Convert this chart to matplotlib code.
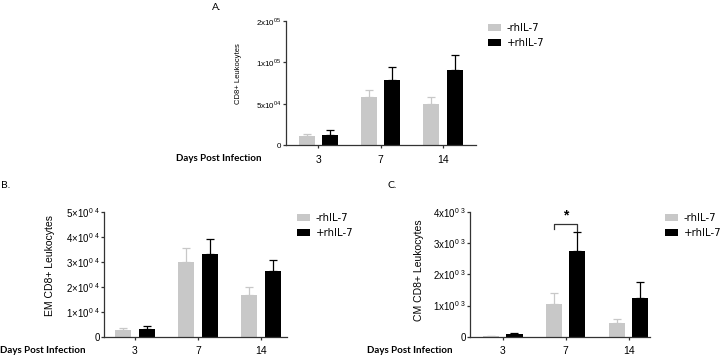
import matplotlib
matplotlib.use("Agg")
import matplotlib.pyplot as plt
import numpy as np
from matplotlib.patches import Patch

plt.rcParams['font.family'] = ['Liberation Sans', 'DejaVu Sans']
plt.rcParams['mathtext.fontset'] = 'custom'
plt.rcParams['mathtext.rm'] = 'Liberation Sans'

days = ['3', '7', '14']
groups = ['-rhIL-7', '+rhIL-7']

# A. CD8+ leukocytes
cd8_minus = [1.04e4, 5.84e4, 4.96e4]
cd8_minus_err = [2.6e3, 7.6e3, 8.8e3]
cd8_plus = [1.16e4, 7.8e4, 9.0e4]
cd8_plus_err = [6.0e3, 1.64e4, 1.84e4]
cd8_ticks = [0, 5e4, 1e5, 1.5e5]
cd8_ticklabels = ['0', r'5x10$^{04}$', r'1x10$^{05}$', r'2x10$^{05}$']

# B. EM CD8+ leukocytes
em_minus = [2.7e3, 3.0e4, 1.68e4]
em_minus_err = [900, 5.6e3, 3.1e3]
em_plus = [2.9e3, 3.3e4, 2.63e4]
em_plus_err = [1.5e3, 6.0e3, 4.4e3]
em_ticks = [0, 1e4, 2e4, 3e4, 4e4, 5e4]
em_ticklabels = ['0', r'1×10$^{0\ 4}$', r'2×10$^{0\ 4}$', r'3×10$^{0\ 4}$', r'4×10$^{0\ 4}$', r'5×10$^{0\ 4}$']

# C. CM CD8+ leukocytes
cm_minus = [20, 1.05e3, 430]
cm_minus_err = [10, 360, 150]
cm_plus = [90, 2.75e3, 1.23e3]
cm_plus_err = [40, 620, 520]
cm_ticks = [0, 1e3, 2e3, 3e3, 4e3]
cm_ticklabels = ['0', r'1x10$^{0\ 3}$', r'2x10$^{0\ 3}$', r'3x10$^{0\ 3}$', r'4x10$^{0\ 3}$']

GRAY = '#c8c8c8'
BLACK = '#000000'
W, H = 720, 357

fig = plt.figure(figsize=(7.2, 3.57), dpi=100)


def px_axes(left, top, right, bottom):
    return fig.add_axes([left / W, 1 - bottom / H, (right - left) / W, (bottom - top) / H])


def panel(ax, minus, minus_err, plus, plus_err, ticks, ticklabels, xlim, ytick_size):
    x = np.arange(len(days))
    off, bw = 0.187, 0.256
    ax.bar(x - off, minus, bw, color=GRAY, zorder=2)
    ax.bar(x + off, plus, bw, color=BLACK, zorder=2)
    ax.errorbar(x - off, minus, yerr=[np.zeros(3), minus_err], fmt='none', ecolor=GRAY,
                elinewidth=0.9, capsize=3.2, capthick=0.9, zorder=1)
    ax.errorbar(x + off, plus, yerr=[np.zeros(3), plus_err], fmt='none', ecolor=BLACK,
                elinewidth=0.9, capsize=3.2, capthick=0.9, zorder=1)
    ax.set_xlim(xlim)
    ax.set_ylim(0, ticks[-1])
    ax.set_xticks(x)
    ax.set_xticklabels(days, fontsize=7.5)
    ax.set_yticks(ticks)
    ax.set_yticklabels(ticklabels, fontsize=ytick_size)
    for s in ['top', 'right']:
        ax.spines[s].set_visible(False)
    for s in ['left', 'bottom']:
        ax.spines[s].set_color('#333333')
        ax.spines[s].set_linewidth(0.9)
    ax.tick_params(axis='x', length=2.5, width=0.9, color='#333333', pad=4.5)
    ax.tick_params(axis='y', length=2.2, width=0.9, color='#333333', pad=1)
    ax.set_facecolor('none')


def legend(ax, x, y):
    handles = [Patch(facecolor=GRAY), Patch(facecolor=BLACK)]
    ax.legend(handles, groups, loc='upper left', bbox_to_anchor=(x / W, 1 - y / H),
              bbox_transform=fig.transFigure, frameon=False, borderpad=0, borderaxespad=0,
              handlelength=1.3, handleheight=0.65, handletextpad=0.55, labelspacing=0.5,
              prop={'family': 'DejaVu Sans', 'size': 7.3})


axA = px_axes(286, 20.7, 476, 145)
panel(axA, cd8_minus, cd8_minus_err, cd8_plus, cd8_plus_err, cd8_ticks, cd8_ticklabels,
      (-0.52, 2.53), 5.8)
legend(axA, 488, 23)

axB = px_axes(104, 211.7, 287, 336.7)
panel(axB, em_minus, em_minus_err, em_plus, em_plus_err, em_ticks, em_ticklabels,
      (-0.49, 2.41), 7)
legend(axB, 297, 213)

axC = px_axes(470, 212, 650, 336.7)
panel(axC, cm_minus, cm_minus_err, cm_plus, cm_plus_err, cm_ticks, cm_ticklabels,
      (-0.52, 2.34), 7)
legend(axC, 665, 213)

# significance bracket, day 7
axC.plot([1 - 0.187, 1 - 0.187, 1 + 0.187, 1 + 0.187], [3450, 3615, 3615, 3390],
         color='#333333', lw=0.9, clip_on=False)
axC.text(1, 3680, '*', ha='center', va='bottom', fontsize=10, fontweight='bold')

# y labels
fig.text(238 / W, 1 - 74 / H, 'CD8+ Leukocytes', rotation=90, ha='center', va='center', fontsize=5.5)
fig.text(50 / W, 1 - 265 / H, 'EM CD8+ Leukocytes', rotation=90, ha='center', va='center', fontsize=7.5)
fig.text(419 / W, 1 - 270 / H, 'CM CD8+ Leukocytes', rotation=90, ha='center', va='center', fontsize=7.5)

# x labels
for xl, yl in [(176, 158.5), (0, 350.7), (367, 350.7)]:
    fig.text(xl / W, 1 - yl / H, 'Days Post Infection', ha='left', va='center',
             fontsize=7, fontweight='bold', family='Lato')

# panel letters
fig.text(212 / W, 1 - 8 / H, 'A.', ha='left', va='center', fontsize=7.5, family='Lato')
fig.text(1 / W, 1 - 186 / H, 'B.', ha='left', va='center', fontsize=7.5, family='Lato')
fig.text(387 / W, 1 - 186 / H, 'C.', ha='left', va='center', fontsize=7.5, family='Lato')

fig.savefig('out.png', dpi=100, facecolor='white')
